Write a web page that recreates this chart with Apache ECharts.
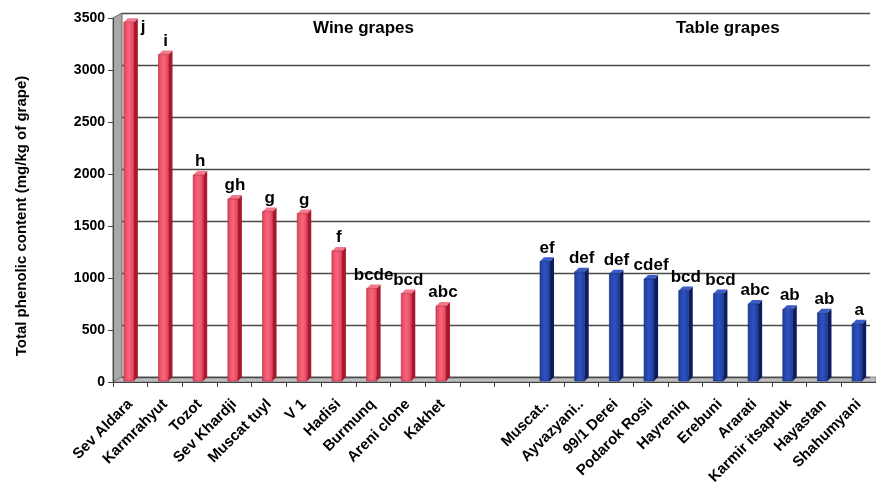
<!DOCTYPE html>
<html>
<head>
<meta charset="utf-8">
<script src="https://cdn.jsdelivr.net/npm/echarts@6/dist/echarts.min.js"></script>
<style>
    html, body { margin: 0; padding: 0; background: #fff; }
    #chart { width: 876px; height: 488px; }
</style>
</head>
<body>
<div id="chart"></div>
<script>
// data
const wineNames = ['Sev Aldara', 'Karmrahyut', 'Tozot', 'Sev Khardji', 'Muscat tuyl', 'V 1', 'Hadisi', 'Burmunq', 'Areni clone', 'Kakhet']
const wineValues = [3460, 3150, 1990, 1760, 1640, 1620, 1260, 900, 850, 730]
const wineLetters = ['j', 'i', 'h', 'gh', 'g', 'g', 'f', 'bcde', 'bcd', 'abc']

const tableNames = ['Muscat..', 'Ayvazyani..', '99/1 Derei', 'Podarok Rosii', 'Hayreniq', 'Erebuni', 'Ararati', 'Karmir itsaptuk', 'Hayastan', 'Shahumyani']
const tableValues = [1160, 1060, 1040, 990, 880, 850, 750, 700, 665, 560]
const tableLetters = ['ef', 'def', 'def', 'cdef', 'bcd', 'bcd', 'abc', 'ab', 'ab', 'a']

const gapSlots = ['', '']
const yMin = 0
const yMax = 3500
const yStep = 500

const categories = wineNames.concat(gapSlots, tableNames)
const font = 'Arial, "Liberation Sans", sans-serif'

// layout of the front plane and the back wall (3D look)
const front = { left: 113, right: -3, top: 18, bottom: 106 }
const depth = 9
const W = 876, H = 488

let wineData = wineValues.map((v, i) => [i, v])
let tableData = tableValues.map((v, i) => [i + wineNames.length + gapSlots.length, v])

// 3D bar: front face + side + top, plus letter label
function makeRender(letters, colors) {
    return function (params, api) {
        let idx = api.value(0)
        let p0 = api.coord([idx, 0])
        let p1 = api.coord([idx, api.value(1)])
        let w = 10, d = 4
        let xl = p0[0] - 6.5, xr = xl + w
        let y0 = p0[1] - 1, y1 = p1[1]
        let letter = letters[params.dataIndex]
        let label
        if (params.dataIndex === 0 && letters === wineLetters) {
            label = { type: 'text', x: xr + d + 3, y: y1 - 3, style: { text: letter, font: 'bold 17px ' + font, fill: '#000', textAlign: 'left', textVerticalAlign: 'top' } }
        } else {
            label = { type: 'text', x: (xl + xr + d) / 2, y: y1 - 5, style: { text: letter, font: 'bold 17px ' + font, fill: '#000', textAlign: 'center', textVerticalAlign: 'bottom' } }
        }
        return {
            type: 'group',
            children: [
                { type: 'polygon', shape: { points: [[xr, y1], [xr + d, y1 - d], [xr + d, y0 - d], [xr, y0]] }, style: { fill: colors.side } },
                { type: 'polygon', shape: { points: [[xl, y1], [xl + d, y1 - d], [xr + d, y1 - d], [xr, y1]] }, style: { fill: colors.top } },
                {
                    type: 'rect', shape: { x: xl, y: y1, width: w, height: y0 - y1 },
                    style: {
                        fill: new echarts.graphic.LinearGradient(0, 0, 1, 0, [
                            { offset: 0, color: colors.front0 },
                            { offset: 0.5, color: colors.front1 },
                            { offset: 1, color: colors.front0 }
                        ]),
                        stroke: colors.edge, lineWidth: 0.6
                    }
                },
                label
            ]
        }
    }
}

const wineColors = { front0: '#E63F5A', front1: '#F4677C', side: '#A8182E', top: '#F07A8C', edge: '#B0203A' }
const tableColors = { front0: '#1E3C9C', front1: '#2E52C0', side: '#0E1C5C', top: '#3A5CC8', edge: '#12286E' }

let chart = echarts.init(document.getElementById('chart'))

// walls drawn as decoration around the plot
let x0 = front.left, yb = H - front.bottom, yt = front.top
let option = {
    animation: false,
    backgroundColor: '#fff',
    title: [
        { text: 'Wine grapes', left: 313, top: 20, padding: 0, textStyle: { fontSize: 17, fontWeight: 'bold', fontFamily: font, color: '#000' } },
        { text: 'Table grapes', left: 676, top: 20, padding: 0, textStyle: { fontSize: 17, fontWeight: 'bold', fontFamily: font, color: '#000' } }
    ],
    graphic: [
        // side wall
        { type: 'polygon', z: 0, shape: { points: [[x0, yt], [x0 + depth, yt - 5], [x0 + depth, yb - 5], [x0, yb]] }, style: { fill: '#A8A8A8', stroke: '#666', lineWidth: 1 } },
        // floor
        { type: 'polygon', z: 0, shape: { points: [[x0, yb], [x0 + depth, yb - 5], [W, yb - 5], [W, yb]] }, style: { fill: '#BDBDBD', stroke: '#777', lineWidth: 0.8 } },
        // y title
        { type: 'text', x: 22, y: 216, rotation: Math.PI / 2, style: { text: 'Total phenolic content (mg/kg of grape)', font: 'bold 15px ' + font, fill: '#000', textAlign: 'center', textVerticalAlign: 'middle' } }
    ],
    grid: [
        { left: front.left, right: front.right, top: front.top, bottom: front.bottom, containLabel: false },
        { left: front.left + depth, right: 6, top: front.top - 5, bottom: front.bottom + 5, containLabel: false }
    ],
    xAxis: [
        {
            type: 'category', gridIndex: 0, data: categories,
            axisLine: { show: true, lineStyle: { color: '#444', width: 1 } },
            axisTick: { show: true, interval: 0, length: 5, lineStyle: { color: '#444' } },
            axisLabel: { interval: 0, rotate: 45, margin: 20, fontSize: 15, fontWeight: 'bold', fontFamily: font, color: '#000' },
            splitLine: { show: false }
        },
        { type: 'value', gridIndex: 1, show: false, min: 0, max: 1 }
    ],
    yAxis: [
        {
            type: 'value', gridIndex: 0, min: yMin, max: yMax, interval: yStep,
            axisLine: { show: true, lineStyle: { color: '#444', width: 1 } },
            axisTick: { show: true, length: 5, lineStyle: { color: '#444' } },
            axisLabel: { margin: 8, fontSize: 14, fontWeight: 'bold', fontFamily: font, color: '#000', formatter: v => String(v) },
            splitLine: { show: false }
        },
        {
            type: 'value', gridIndex: 1, min: yMin, max: yMax, interval: yStep,
            axisLine: { show: false }, axisTick: { show: false }, axisLabel: { show: false },
            splitLine: { show: true, lineStyle: { color: '#4a4a4a', width: 1.3 } }
        }
    ],
    series: [
        { type: 'custom', xAxisIndex: 0, yAxisIndex: 0, z: 5, renderItem: makeRender(wineLetters, wineColors), encode: { x: 0, y: 1 }, data: wineData },
        { type: 'custom', xAxisIndex: 0, yAxisIndex: 0, z: 5, renderItem: makeRender(tableLetters, tableColors), encode: { x: 0, y: 1 }, data: tableData }
    ]
}
chart.setOption(option)
</script>
</body>
</html>
